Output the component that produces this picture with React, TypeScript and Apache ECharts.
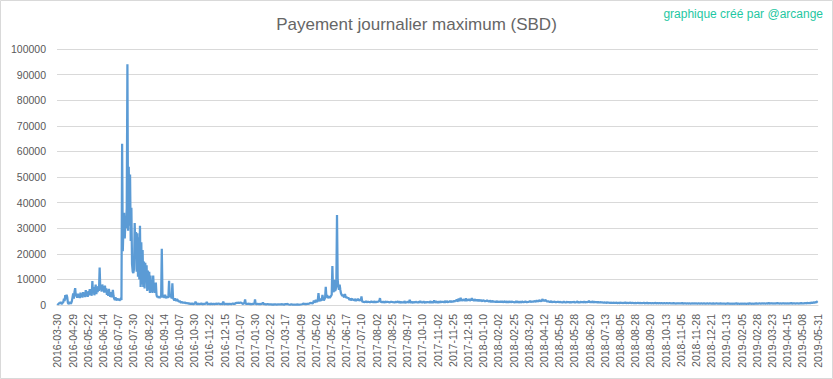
import React, { useEffect, useRef } from "react";
import * as echarts from "echarts";

const TITLE = "Payement journalier maximum (SBD)";
const CREDIT = "graphique créé par @arcange";
const FIRST_DAY = "2016-03-30";
const RESUME_DAY = "2016-04-07";
const LAST_DAY = "2019-05-31";
const Y_MIN = 0;
const Y_MAX = 100000;
const Y_STEP = 10000;
const LABEL_EVERY = 23;

// 2016-03-30 .. 2016-07-12
const payA = [
  600, 300, 450, 800, 500, 1200, 700, 400, 900, 1100,
  2500, 1500, 3900, 2200, 4000, 3000,
  800, 400, 600, 1200, 500, 700, 1500,
  3000, 4500, 2500, 5200, 6600,
  3500, 4200, 2800, 4400, 3000, 3800, 2700, 4800, 3300, 4000, 2900, 5000, 3600, 4300, 3100,
  5800, 3500, 4600, 3200, 5400, 3800, 6200, 4000, 5000, 3600,
  9400,
  4500, 7000, 3800, 6000, 8000, 4200, 6500, 5000, 7400, 5500,
  14600,
  6000, 7800, 5200, 8000, 6200, 7000, 4800, 7600,
  5000, 6500, 4000, 5800, 3600, 6300, 4200, 3200, 5000, 3000, 4200, 5900, 3500,
  2500, 2000, 3000, 2200, 1800, 2600, 2000, 2400, 1700, 2200, 2500, 2000,
];

// 2016-07-13 .. 2016-10-21
const payB = [
  63000, 21000, 30000, 36000, 26000, 33000, 30000, 38000, 94000, 29000,
  54000, 31000, 51000, 25000, 38000, 16000, 13000, 12500, 14000, 32000,
  22000, 28500, 13000, 28000, 11000, 26500, 10000, 31000,
  7000, 24500, 8000, 21500, 7000, 17000, 6500, 16500, 9000, 15500,
  5500, 13500, 6000, 13000, 4700, 11500, 5000, 7800, 4700, 11500,
  5500, 6000, 4800, 8800,
  4000, 3000, 3500, 2800, 3200, 2700, 3500, 2900,
  22000,
  4300, 3000, 3600, 2800, 4000, 3100, 2700, 3400, 2900, 3200,
  9500,
  3000, 3500, 3800, 2500, 8500, 2800,
  2200, 1800, 2600, 2000, 1600, 2300, 1900, 1500, 1400, 1700,
  1200, 900, 1300, 1000, 800, 1100, 700, 1000, 900, 600, 800, 700, 500, 650,
];

// 2016-10-23 .. 2017-09-07
const payC = [
  500, 400, 600, 350, 700, 450, 300, 550, 400, 1300, 500, 350, 450, 600, 300, 400, 500, 350, 700, 400,
  300, 450, 500, 400, 350, 600, 1200, 400, 300, 500, 450, 350, 400, 550, 300, 400, 500, 350, 300, 450,
  400, 500, 350, 300, 600, 400, 450, 350, 500, 300, 400, 1300, 450, 350, 400, 500, 300, 350, 450, 400,
  350, 500, 400, 300, 450, 600, 400, 350, 500, 400, 800, 900, 750, 1000, 850, 900, 800, 1000, 900, 700,
  500, 400, 600, 900, 2200, 500, 400, 350, 450, 400, 500, 350, 400, 450, 300, 400, 350, 500, 400, 2200,
  450, 400, 350, 500, 400, 300, 450, 400, 350, 500, 400, 1000, 300, 250, 350, 300, 200, 300, 250, 350,
  200, 150, 250, 300, 200, 100, 250, 200, 150, 300, 200, 250, 150, 200, 300, 250, 200, 150, 250, 200,
  300, 200, 250, 150, 200, 400, 300, 350, 400, 300, 200, 150, 100, 200, 150, 250, 100, 150, 200, 100,
  150, 200, 100, 250, 150, 200, 100, 150, 200, 250, 300, 400, 350, 500, 300, 450, 400, 350, 500, 400,
  450, 500, 700, 650, 800, 700, 600, 900, 1700, 1000, 1300, 2000, 1500, 1200, 2000, 4600, 2000, 1500, 2500, 1800,
  2000, 3900, 2500, 1800, 2200, 2800, 7100, 3000, 3900, 2700, 3000, 3500, 2800, 3200, 3600, 4000, 15200, 5900, 5000, 9800,
  5500, 6000, 8000, 35200, 10000, 7100, 6000, 8000, 6000, 4600, 4000, 3500, 4000, 3300, 3000, 4300, 3500, 2800, 3000, 2700,
  2900, 2400, 2000, 2600, 1800, 2200, 2500, 1900, 2300, 1700, 2000, 2400, 1600, 2100, 1800, 2500, 1700, 1900, 2200, 1600,
  3400, 1500, 1200, 1400, 1000, 1300, 1100, 1500, 1200, 1000, 1400, 1100, 1300, 1000, 1200, 1500, 1100, 1300, 1000, 1400,
  1200, 1100, 1300, 1000, 1500, 1200, 1400, 1600, 2700, 1300, 1100, 1200, 1000, 1400, 1100, 900, 1300, 1200, 1000, 1400,
  1100, 1300, 900, 1200, 1000, 1400, 1100, 1300, 1000, 1200, 900, 1100, 1300, 1000, 1200, 1400, 1000, 1100, 1300, 900,
];

// 2017-09-08 .. 2019-05-31
const payD = [
  1000, 1300, 800, 1200, 900, 1500, 1100, 800, 1200, 1000, 1400, 900, 1100, 2000, 1200, 900, 1300, 1000, 800, 1200,
  1100, 900, 1400, 1000, 1200, 800, 1300, 1100, 900, 1600, 1000, 1200, 900, 1100, 1400, 1000, 800, 1200, 1100, 900,
  1300, 1000, 1200, 900, 1500, 1100, 1000, 1300, 900, 1200, 1800, 1100, 1000, 1400, 1200, 900, 1300, 1100, 1000, 1500,
  1200, 1000, 1400, 1100, 1300, 1000, 1600, 1200, 1100, 1500, 1300, 1000, 1400, 1200, 1700, 1100, 1300, 1500, 1200, 1400,
  1600, 1300, 1800, 1500, 2200, 1400, 1700, 2500, 1600, 1900, 2800, 1700, 2000, 1600, 2300, 1800, 2100, 1500, 2600, 1900,
  1700, 2200, 1800, 2400, 1600, 2000, 1900, 2700, 1800, 2100, 1600, 2300, 1900, 1700, 2200, 1500, 2000, 1800, 1600, 2100,
  1500, 1900, 1700, 1400, 2000, 1600, 1800, 1300, 1700, 1500, 1900, 1400, 1600, 1300, 1800, 1500, 1200, 1600, 1400, 1300,
  1500, 1200, 1400, 1100, 1600, 1300, 1200, 1500, 1000, 1400, 1200, 1300, 1100, 1500, 1200, 1000, 1400, 1300, 1100, 1200,
  1400, 1000, 1300, 1200, 1100, 1500, 1000, 1200, 1400, 1100, 1300, 900, 1200, 1100, 1600, 1000, 1200, 1300, 1000, 1100,
  1300, 1100, 1000, 1400, 1200, 1000, 1300, 1100, 1500, 1200, 1000, 1300, 1100, 1400, 1200, 1600, 1300, 1100, 1500, 1200,
  1400, 1300, 1700, 1200, 1500, 1800, 1400, 1600, 1300, 2000, 1500, 1700, 1400, 1900, 2300, 1600, 1800, 1500, 2100, 1700,
  1500, 1300, 1600, 1200, 1400, 1100, 1500, 1300, 1200, 1000, 1400, 1100, 1300, 1200, 1000, 1300, 1100, 1400, 1000, 1200,
  1100, 1300, 1000, 1200, 900, 1100, 1400, 1000, 1200, 900, 1100, 1300, 1000, 1200, 1100, 900, 1300, 1000, 1100, 1200,
  1000, 1300, 1100, 900, 1200, 1000, 1500, 1100, 1000, 1200, 900, 1100, 1300, 1000, 1200, 1100, 1000, 1400, 1100, 1000,
  1200, 1000, 1300, 1100, 1700, 1200, 1000, 1300, 1100, 1200, 1400, 1000, 1100, 1300, 1000, 1200, 1100, 900, 1300, 1000,
  1100, 1000, 1200, 900, 1100, 1000, 800, 1100, 900, 1000, 800, 900, 1100, 800, 1000, 900, 700, 1000, 900, 800,
  900, 800, 1000, 700, 900, 800, 1000, 700, 800, 900, 700, 800, 1000, 700, 900, 800, 700, 900, 800, 1000,
  800, 700, 900, 800, 700, 900, 800, 1000, 700, 800, 900, 700, 800, 600, 900, 800, 700, 800, 900, 700,
  800, 700, 900, 600, 800, 700, 800, 900, 700, 600, 800, 700, 900, 700, 600, 800, 700, 800, 600, 700,
  800, 700, 600, 800, 700, 900, 600, 700, 800, 600, 700, 800, 700, 600, 800, 700, 600, 700, 800, 600,
  700, 600, 800, 700, 600, 700, 800, 600, 700, 500, 700, 600, 800, 600, 700, 600, 500, 700, 600, 700,
  600, 700, 500, 700, 600, 800, 600, 500, 700, 600, 700, 500, 600, 700, 600, 500, 700, 600, 500, 600,
  700, 500, 600, 700, 500, 600, 700, 600, 500, 600, 700, 500, 600, 500, 700, 600, 500, 600, 700, 500,
  600, 500, 600, 700, 500, 600, 500, 700, 600, 500, 600, 500, 700, 500, 600, 500, 600, 700, 500, 600,
  500, 600, 500, 700, 500, 600, 400, 600, 500, 600, 500, 400, 600, 500, 700, 500, 600, 400, 500, 600,
  500, 400, 600, 500, 400, 600, 500, 700, 500, 400, 600, 500, 400, 500, 600, 400, 500, 600, 500, 400,
  600, 500, 400, 500, 600, 400, 500, 700, 500, 600, 400, 500, 600, 500, 400, 600, 500, 700, 500, 600,
  500, 600, 700, 500, 600, 500, 700, 600, 500, 700, 600, 500, 600, 700, 500, 600, 800, 600, 500, 700,
  600, 700, 500, 600, 700, 600, 500, 700, 600, 800, 600, 700, 500, 600, 700, 600, 500, 700, 600, 700,
  500, 600, 700, 600, 500, 700, 600, 500, 700, 600, 800, 600, 500, 700, 600, 700, 500, 600, 700, 600,
  700, 600, 500, 700, 600, 800, 600, 700, 500, 700, 600, 800, 700, 600, 900, 700, 800, 600, 900, 700,
  800, 1000, 700, 900, 1100, 800, 1000, 1200, 900, 1300, 1500,
];

function buildDates(): string[] {
  const out: string[] = [FIRST_DAY];
  const d = new Date(RESUME_DAY + "T00:00:00Z");
  const end = new Date(LAST_DAY + "T00:00:00Z");
  while (d.getTime() <= end.getTime()) {
    out.push(d.toISOString().slice(0, 10));
    d.setUTCDate(d.getUTCDate() + 1);
  }
  return out;
}

export default function App() {
  const ref = useRef<HTMLDivElement>(null);

  useEffect(() => {
    if (!ref.current) return;
    const chart = echarts.init(ref.current, undefined, { renderer: "svg" });
    const dates = buildDates();
    const values = [...payA, ...payB, ...payC, ...payD];
    const font = "'Liberation Sans', Arial, sans-serif";

    chart.setOption({
      animation: false,
      backgroundColor: "#ffffff",
      title: {
        text: TITLE,
        left: "center",
        top: 11,
        textStyle: {
          fontFamily: font,
          fontSize: 17,
          fontWeight: "normal",
          color: "#666666",
        },
      },
      graphic: [
        {
          type: "rect",
          shape: { x: 0.5, y: 0.5, width: 832, height: 378 },
          style: { fill: "none", stroke: "#D9D9D9", lineWidth: 1 },
          silent: true,
        },
        {
          type: "text",
          right: 10,
          top: 8,
          style: {
            text: CREDIT,
            fontFamily: font,
            fontSize: 12,
            fill: "#1FC7A2",
          },
        },
      ],
      grid: { left: 57, right: 15, top: 49, bottom: 74, containLabel: false },
      xAxis: {
        type: "category",
        data: dates,
        boundaryGap: true,
        axisLine: { lineStyle: { color: "#D9D9D9" } },
        axisTick: { show: false },
        axisLabel: {
          interval: LABEL_EVERY - 1,
          rotate: 90,
          margin: 9,
          fontFamily: font,
          fontSize: 10.5,
          color: "#595959",
        },
        splitLine: { show: false },
      },
      yAxis: {
        type: "value",
        min: Y_MIN,
        max: Y_MAX,
        interval: Y_STEP,
        axisLine: { show: false },
        axisTick: { show: false },
        axisLabel: {
          margin: 11,
          fontFamily: font,
          fontSize: 10.5,
          color: "#595959",
          formatter: (v: number) => String(v),
        },
        splitLine: { lineStyle: { color: "#D9D9D9", width: 1 } },
      },
      series: [
        {
          type: "line",
          data: values,
          showSymbol: false,
          symbol: "none",
          lineStyle: { color: "#5B9BD5", width: 2.25 },
          itemStyle: { color: "#5B9BD5" },
        },
      ],
    });

    return () => chart.dispose();
  }, []);

  return (
    <div
      ref={ref}
      style={{ position: "absolute", left: 0, top: 0, width: 833, height: 379 }}
    />
  );
}
